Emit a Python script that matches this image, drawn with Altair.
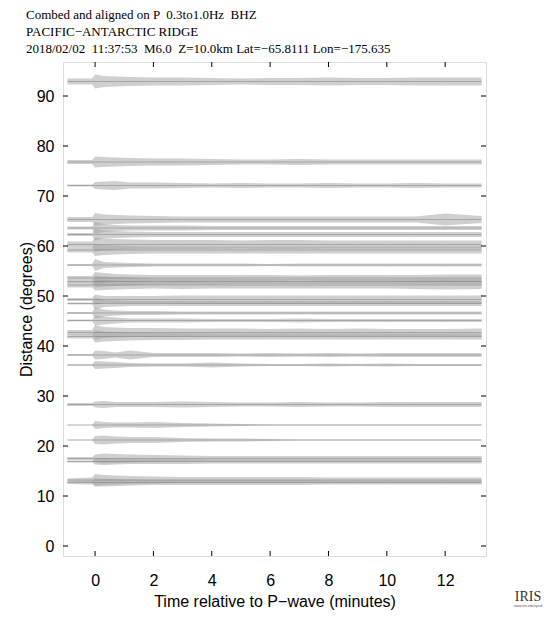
import altair as alt
import pandas as pd

# ---- data ----
title_lines = [
    "Combed and aligned on P \u00a00.3to1.0Hz \u00a0BHZ",
    "PACIFIC\u2212ANTARCTIC RIDGE",
    "2018/02/02 \u00a011:37:53 \u00a0M6.0 \u00a0Z=10.0km Lat=\u221265.8111 Lon=\u2212175.635",
]
x_title = "Time relative to P\u2212wave (minutes)"
y_title = "Distance (degrees)"

x_ticks = [0, 2, 4, 6, 8, 10, 12]
y_ticks = [0, 10, 20, 30, 40, 50, 60, 70, 80, 90]

# envelope knots (minutes relative to P)
knots = [-0.95, -0.1, 0.0, 0.3, 0.7, 1.2, 2, 3, 4, 5, 6, 7, 8, 9, 10, 11, 12, 13.25]

# station distances (degrees)
distances = [92.9, 76.8, 72.1, 65.3, 63.6, 62.3, 60.3, 59.2, 56.2, 53.6, 52.9, 52.2,
             49.3, 48.5, 46.6, 45.1, 42.7, 41.9, 38.2, 36.2, 28.3, 24.2, 21.2,
             17.5, 16.9, 13.2, 12.7]

# half-width of each trace's amplitude envelope at the knots (degrees)
env_929 = [0.6, 0.6, 1.4, 1.1, 1.0, 0.9, 0.8, 0.8, 0.7, 0.6, 0.7, 0.7, 0.8, 0.7, 0.7, 0.8, 0.8, 0.8]
env_768 = [0.4, 0.4, 1.1, 1.0, 0.9, 0.8, 0.7, 0.7, 0.6, 0.5, 0.5, 0.6, 0.5, 0.5, 0.5, 0.5, 0.5, 0.5]
env_721 = [0.2, 0.2, 0.7, 0.8, 0.9, 0.6, 0.6, 0.5, 0.4, 0.5, 0.4, 0.4, 0.5, 0.4, 0.4, 0.5, 0.4, 0.4]
env_653 = [0.5, 0.5, 1.3, 1.0, 0.9, 0.8, 0.7, 0.6, 0.6, 0.6, 0.6, 0.6, 0.6, 0.6, 0.6, 0.6, 1.2, 0.7]
env_636 = [0.3, 0.3, 1.2, 0.8, 0.6, 0.5, 0.5, 0.5, 0.4, 0.4, 0.4, 0.4, 0.4, 0.4, 0.4, 0.4, 0.4, 0.4]
env_623 = [0.3, 0.3, 1.2, 0.8, 0.7, 0.6, 0.5, 0.5, 0.5, 0.5, 0.5, 0.5, 0.5, 0.5, 0.5, 0.5, 0.5, 0.5]
env_603 = [0.6, 0.6, 1.4, 1.2, 1.1, 1.0, 0.9, 0.9, 0.9, 0.8, 0.9, 0.9, 0.8, 0.8, 0.8, 0.8, 0.8, 0.8]
env_592 = [0.5, 0.5, 1.2, 1.0, 0.9, 0.8, 0.7, 0.7, 0.7, 0.7, 0.7, 0.7, 0.7, 0.7, 0.7, 0.7, 0.7, 0.7]
env_562 = [0.2, 0.2, 1.2, 0.6, 0.5, 0.4, 0.3, 0.3, 0.3, 0.3, 0.2, 0.3, 0.3, 0.3, 0.3, 0.3, 0.3, 0.3]
env_536 = [0.4, 0.4, 1.2, 1.0, 0.8, 0.7, 0.6, 0.6, 0.6, 0.6, 0.6, 0.5, 0.6, 0.6, 0.6, 0.6, 0.7, 0.7]
env_529 = [0.3, 0.3, 1.2, 1.0, 0.9, 0.8, 0.6, 0.6, 0.6, 0.5, 0.5, 0.5, 0.5, 0.5, 0.5, 0.6, 0.6, 0.6]
env_522 = [0.5, 0.5, 1.1, 1.0, 0.9, 0.8, 0.7, 0.8, 0.7, 0.7, 0.7, 0.7, 0.7, 0.7, 0.7, 0.8, 0.9, 0.8]
env_493 = [0.3, 0.3, 1.0, 0.7, 0.7, 0.7, 0.7, 0.8, 0.8, 0.8, 0.8, 0.8, 0.8, 0.8, 0.8, 0.8, 0.8, 0.8]
env_485 = [0.2, 0.2, 1.2, 0.7, 0.6, 0.5, 0.5, 0.5, 0.5, 0.5, 0.5, 0.5, 0.5, 0.5, 0.5, 0.5, 0.5, 0.5]
env_466 = [0.2, 0.2, 1.1, 0.7, 0.5, 0.4, 0.4, 0.3, 0.3, 0.3, 0.3, 0.3, 0.3, 0.3, 0.3, 0.3, 0.3, 0.3]
env_451 = [0.2, 0.2, 1.0, 0.8, 0.6, 0.4, 0.4, 0.4, 0.3, 0.3, 0.3, 0.4, 0.3, 0.3, 0.3, 0.3, 0.3, 0.3]
env_427 = [0.5, 0.5, 1.5, 1.1, 1.0, 0.9, 0.9, 0.8, 0.8, 0.8, 0.7, 0.8, 0.7, 0.8, 0.7, 0.7, 0.7, 0.8]
env_419 = [0.4, 0.4, 1.2, 1.0, 0.9, 0.8, 0.7, 0.7, 0.6, 0.6, 0.6, 0.6, 0.6, 0.6, 0.6, 0.6, 0.6, 0.6]
env_382 = [0.2, 0.2, 0.9, 0.8, 0.5, 0.9, 0.4, 0.4, 0.4, 0.3, 0.4, 0.3, 0.4, 0.3, 0.4, 0.4, 0.4, 0.4]
env_362 = [0.15, 0.15, 0.8, 0.7, 0.6, 0.4, 0.3, 0.3, 0.5, 0.3, 0.2, 0.2, 0.3, 0.2, 0.3, 0.2, 0.2, 0.2]
env_283 = [0.3, 0.3, 0.6, 0.7, 0.5, 0.5, 0.5, 0.6, 0.5, 0.4, 0.4, 0.5, 0.4, 0.4, 0.5, 0.5, 0.5, 0.5]
env_242 = [0.05, 0.05, 0.8, 0.6, 0.5, 0.5, 0.6, 0.4, 0.3, 0.2, 0.1, 0.1, 0.1, 0.1, 0.1, 0.1, 0.1, 0.1]
env_212 = [0.05, 0.05, 0.8, 0.9, 0.7, 0.6, 0.6, 0.4, 0.3, 0.3, 0.2, 0.1, 0.1, 0.1, 0.1, 0.1, 0.1, 0.1]
env_175 = [0.3, 0.3, 0.8, 1.0, 0.9, 0.8, 0.7, 0.6, 0.5, 0.5, 0.5, 0.5, 0.5, 0.5, 0.5, 0.5, 0.5, 0.5]
env_169 = [0.2, 0.2, 0.6, 0.7, 0.6, 0.5, 0.5, 0.5, 0.4, 0.4, 0.4, 0.4, 0.4, 0.4, 0.4, 0.4, 0.4, 0.4]
env_132 = [0.3, 0.5, 1.2, 1.0, 0.9, 0.8, 0.7, 0.6, 0.6, 0.6, 0.6, 0.6, 0.5, 0.5, 0.5, 0.5, 0.5, 0.5]
env_127 = [0.3, 0.4, 0.8, 0.8, 0.7, 0.6, 0.5, 0.5, 0.5, 0.5, 0.5, 0.5, 0.4, 0.4, 0.4, 0.4, 0.4, 0.4]

envelopes = [env_929, env_768, env_721, env_653, env_636, env_623, env_603, env_592,
             env_562, env_536, env_529, env_522, env_493, env_485, env_466, env_451,
             env_427, env_419, env_382, env_362, env_283, env_242, env_212, env_175,
             env_169, env_132, env_127]

# ---- build tables ----
rows = []
for i, (d, env) in enumerate(zip(distances, envelopes)):
    for t, a in zip(knots, env):
        rows.append({"trace": i, "t": t, "dist": d, "lo": d - a, "hi": d + a})
df = pd.DataFrame(rows)
xt = pd.DataFrame({"v": x_ticks})
yt = pd.DataFrame({"v": y_ticks})

W, H = 423, 494
xscale = alt.Scale(domain=[-1.1, 13.4], nice=False, zero=False)
yscale = alt.Scale(domain=[-2, 96.8], nice=False, zero=False)

xaxis = alt.Axis(values=x_ticks, title=x_title, ticks=False, domain=False, grid=False,
                 labelFont="Liberation Sans", labelFontSize=16, labelColor="black",
                 labelPadding=16, titleFont="Liberation Sans", titleFontSize=16,
                 titleFontWeight="normal", titleColor="black", titlePadding=5)
yaxis = alt.Axis(values=y_ticks, title=y_title, ticks=False, domain=False, grid=False,
                 labelFont="Liberation Sans", labelFontSize=16, labelColor="black",
                 labelPadding=9, titleFont="Liberation Sans", titleFontSize=16,
                 titleFontWeight="normal", titleColor="black", titlePadding=2)

base = alt.Chart(df)
areas = base.mark_area(color="#a0a0a0", opacity=0.5, interpolate="linear").encode(
    x=alt.X("t:Q", scale=xscale, axis=xaxis),
    y=alt.Y("lo:Q", scale=yscale, axis=yaxis),
    y2="hi:Q",
    detail="trace:N",
)
centers = base.mark_line(color="#7a7a7a", strokeWidth=0.5).encode(
    x=alt.X("t:Q", scale=xscale),
    y=alt.Y("dist:Q", scale=yscale),
    detail="trace:N",
)

tk = 5
xt_bot = alt.Chart(xt).mark_rule(color="black").encode(
    x=alt.X("v:Q", scale=xscale), y=alt.value(H), y2=alt.value(H - tk))
xt_top = alt.Chart(xt).mark_rule(color="black").encode(
    x=alt.X("v:Q", scale=xscale), y=alt.value(0), y2=alt.value(tk))
yt_left = alt.Chart(yt).mark_rule(color="black").encode(
    y=alt.Y("v:Q", scale=yscale), x=alt.value(0), x2=alt.value(tk))
yt_right = alt.Chart(yt).mark_rule(color="black").encode(
    y=alt.Y("v:Q", scale=yscale), x=alt.value(W), x2=alt.value(W - tk))

logo = alt.Chart(pd.DataFrame({"s": ["IRIS"]})).mark_text(
    font="Liberation Serif", fontSize=14, color="#333", align="center", baseline="middle"
).encode(text="s:N", x=alt.value(W + 42), y=alt.value(H + 41))
logo_sub = alt.Chart(pd.DataFrame({"s": ["www.iris.edu/spud"]})).mark_text(
    font="Liberation Sans", fontSize=3.5, color="#555", align="center", baseline="middle"
).encode(text="s:N", x=alt.value(W + 42), y=alt.value(H + 50))

chart = alt.layer(areas, centers, xt_bot, xt_top, yt_left, yt_right, logo, logo_sub).properties(
    width=W, height=H,
    autosize=alt.AutoSizeParams(type="none"),
    padding={"left": 55, "top": 54, "right": 62, "bottom": 54},
    title=alt.TitleParams(text=title_lines, anchor="start", frame="group",
                          font="Liberation Serif",
                          fontSize=13, fontWeight="normal", color="black",
                          lineHeight=17, offset=6, dx=-37),
).configure_view(stroke="black", strokeWidth=1).configure(background="white")

chart.save("out.html", embed_options={"renderer": "svg", "actions": False})
